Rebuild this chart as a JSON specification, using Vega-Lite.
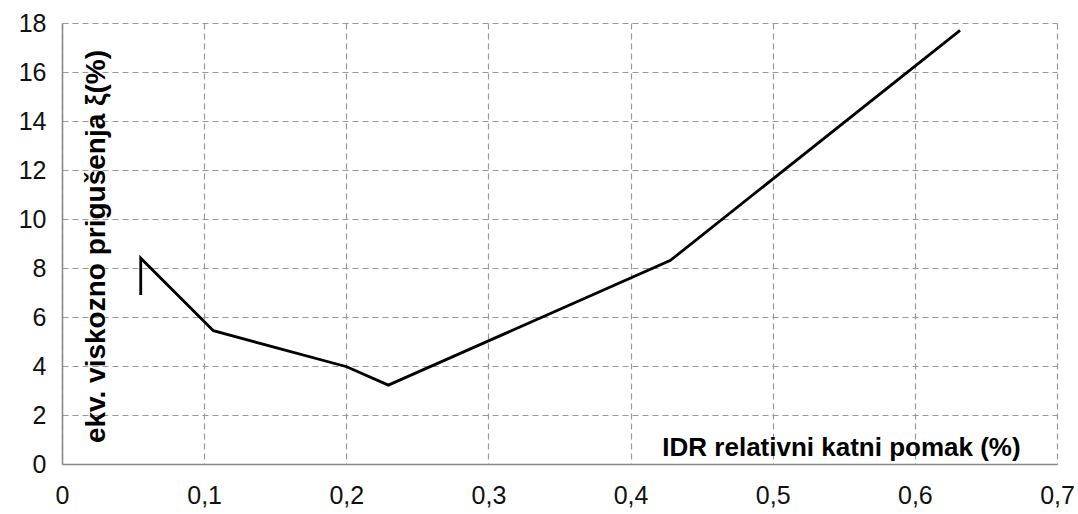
{
  "$schema": "https://vega.github.io/schema/vega-lite/v6.json",
  "width": 995,
  "height": 441,
  "autosize": {"type": "none"},
  "padding": {"left": 62, "top": 23, "right": 21, "bottom": 50},
  "background": "white",
  "config": {
    "view": {"stroke": null},
    "axis": {
      "labelFont": "Liberation Sans",
      "labelFontSize": 25,
      "labelColor": "#111",
      "titleFont": "Liberation Sans",
      "titleFontWeight": "bold",
      "titleFontSize": 26,
      "titleColor": "#000",
      "domainColor": "#888",
      "domainWidth": 1.5,
      "gridColor": "#999",
      "gridDash": [6, 4],
      "gridWidth": 1.2,
      "ticks": false
    }
  },
  "data": {
    "values": [
      {"i": 0, "idr": 0.0554, "xi": 6.9},
      {"i": 1, "idr": 0.0554, "xi": 8.4},
      {"i": 2, "idr": 0.1065, "xi": 5.44},
      {"i": 3, "idr": 0.2003, "xi": 3.97},
      {"i": 4, "idr": 0.2296, "xi": 3.22},
      {"i": 5, "idr": 0.4278, "xi": 8.3},
      {"i": 6, "idr": 0.6318, "xi": 17.7}
    ]
  },
  "mark": {"type": "line", "color": "#000", "strokeWidth": 2.8, "strokeJoin": "miter"},
  "encoding": {
    "order": {"field": "i", "type": "quantitative"},
    "x": {
      "field": "idr",
      "type": "quantitative",
      "scale": {"domain": [0, 0.7], "nice": false, "zero": true},
      "axis": {
        "values": [0, 0.1, 0.2, 0.3, 0.4, 0.5, 0.6, 0.7],
        "labelExpr": "datum.value == 0 ? '0' : replace(format(datum.value, '.1f'), '.', ',')",
        "labelPadding": 19,
        "labelFlush": false,
        "title": "IDR relativni katni pomak (%)",
        "titleX": 779,
        "titleY": -17,
        "titleAlign": "center",
        "titleBaseline": "middle"
      }
    },
    "y": {
      "field": "xi",
      "type": "quantitative",
      "scale": {"domain": [0, 18], "nice": false},
      "axis": {
        "values": [0, 2, 4, 6, 8, 10, 12, 14, 16, 18],
        "labelPadding": 16,
        "labelFlush": false,
        "title": "ekv. viskozno prigušenja ξ(%)",
        "titleFontSize": 28,
        "titleAngle": -90,
        "titleX": 34,
        "titleY": 223,
        "titleAlign": "center",
        "titleBaseline": "middle"
      }
    }
  }
}
